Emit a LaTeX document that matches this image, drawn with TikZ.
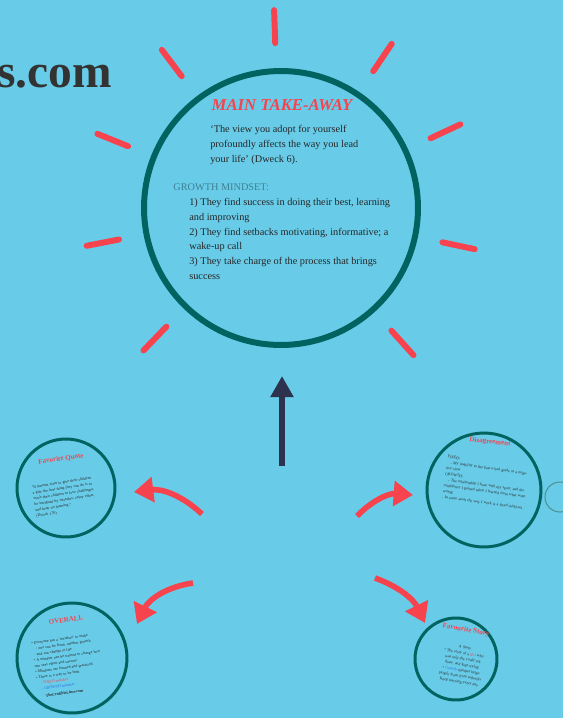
\documentclass[tikz,border=0pt]{standalone}
\usepackage{fontspec}
\setmainfont{Liberation Serif}
\usetikzlibrary{arrows.meta}

\definecolor{skyback}{RGB}{104,204,232}
\definecolor{deepteal}{RGB}{0,99,96}
\definecolor{rayred}{RGB}{247,67,78}
\definecolor{navyink}{RGB}{45,50,78}
\definecolor{mindteal}{RGB}{62,128,148}
\definecolor{inkgray}{RGB}{38,38,40}
\definecolor{linkblue}{RGB}{40,110,230}

\newcommand{\bodysize}{\fontsize{5.85}{8.4}\selectfont}
\newcommand{\tinysize}{\fontsize{2.2}{3.3}\selectfont}
\newcommand{\bubtitle}{\bfseries\fontsize{4}{4}\selectfont}

\begin{document}
\begin{tikzpicture}[x=0.02cm, y=0.02cm,
    every node/.style={inner sep=0pt, text=inkgray},
    bubble/.style={circle, draw=deepteal, line width=1.7pt},
    ray/.style={draw=rayred, line width=3.4pt, line cap=round},
    curly/.style={draw=rayred, line width=3.2pt, -{Triangle[length=11pt, width=14pt]}}]
    \fill[skyback] (0,0) rectangle (563,-718);
    \useasboundingbox (0,0) rectangle (563,-718);

    % site name cut at the left edge
    \node[anchor=base west, font=\bfseries\fontsize{27}{27}\selectfont, text=black!80] (site) at (-3,-87) {s.com};

    % main take-away
    \node[circle, draw=deepteal, line width=3.4pt, minimum size=5.48cm] (main) at (281,-208) {};
    \foreach \a in {92,127,158,191,226,56,25,-12,-48}
        \draw[ray] ([shift={(\a:165)}]main.center) -- ([shift={(\a:198)}]main.center);

    \node[font=\bfseries\itshape\fontsize{9.5}{10}\selectfont, text=rayred] (title) at (282,-105) {MAIN TAKE-AWAY};
    \node[anchor=north west, align=left, font=\bodysize] (quote) at (210,-125)
        {`The view you adopt for yourself\\ profoundly affects the way you lead\\ your life' (Dweck 6).};
    \node[anchor=north west, font=\bodysize, text=mindteal] (growth) at (173,-183) {GROWTH MINDSET:};
    \node[anchor=north west, align=left, font=\bodysize] (items) at (189,-198)
        {1) They find success in doing their best, learning\\ and improving\\
         2) They find setbacks motivating, informative; a\\ wake-up call\\
         3) They take charge of the process that brings\\ success};

    % arrow up to the main circle
    \coordinate (upS) at (282,-466);
    \coordinate (upE) at (282,-376);
    \draw[navyink, line width=3.4pt, -{Triangle[length=12pt, width=12.5pt]}] (upS) -- (upE);

    % bubbles round the centre
    \node[bubble, minimum size=1.96cm] (quoteC) at (66,-488) {};
    \node[bubble, minimum size=2.28cm] (disagC) at (484,-490) {};
    \node[circle, draw=deepteal!70, line width=0.6pt, minimum size=0.6cm] (nextC) at (560,-497) {};
    \node[bubble, minimum size=2.2cm] (overallC) at (72,-658) {};
    \node[bubble, minimum size=1.64cm] (storyC) at (456,-659) {};

    \coordinate (qS) at (202,-514);
    \coordinate (qE) at (134,-492);
    \coordinate (dS) at (357,-516);
    \coordinate (dE) at (413,-495);
    \coordinate (oS) at (193,-583);
    \coordinate (oE) at (137,-624);
    \coordinate (sS) at (375,-578);
    \coordinate (sE) at (425,-623);
    \draw[curly] (qS) to[bend right=25] (qE);
    \draw[curly] (dS) to[bend left=25] (dE);
    \draw[curly] (oS) to[bend right=28] (oE);
    \draw[curly] (sS) to[bend left=22] (sE);

    % bubble texts
    \node[font=\bubtitle, text=rayred, rotate=8] (quoteT) at (61,-459) {Favorite Quote};
    \node[align=left, text width=1.25cm, font=\tinysize, rotate=9] (quoteB) at (65,-497)
        {``If parents want to give their children a gift, the best thing they can do is to teach their children to love challenges, be intrigued by mistakes, enjoy effort, and keep on learning.''\\ (Dweck 176)};

    \node[font=\bubtitle, text=rayred, rotate=-6] (disagT) at (490,-442) {Disagreement};
    \node[align=left, text width=1.7cm, font=\tinysize, rotate=-8] (disagB) at (487,-483)
        {FIXED:\\ \quad - My inability to get past a bad grade or a negative view\\
         GROWTH:\\ \quad - The relationship I have with my sport, and the confidence I gained when I learned from what went wrong\\
         - In some areas the way I work is a fixed mind-set};

    \node[font=\bubtitle, text=rayred, rotate=8] (overallT) at (66,-620) {OVERALL};
    \node[align=left, text width=1.45cm, font=\tinysize, rotate=8] (overallB) at (71,-665)
        {\textbullet\ Everyone has a `mindset' to make\\ \quad - one can be fixed, another growth\\ \quad and can change in life\\
         \textbullet\ A mindset can be trained to change how one sees effort and success\\
         \textbullet\ Mindsets are learned and practiced\\
         \textbullet\ There is a way to be both\\
         \quad {\color{rayred}- FIXED mindset}\\ \quad {\color{linkblue}- GROWTH mindset}\\[1pt]
         \hspace*{4pt}\textbf{TheCredibleLines.com}};

    \node[font=\bubtitle, text=rayred, rotate=-10] (storyT) at (466,-630) {Favourite Story};
    \node[align=center, text width=1.0cm, font=\tinysize, rotate=-10] (storyB) at (462,-665)
        {A Story\\ \textbullet\ The story of a {\color{rayred}girl} who was told she could not draw, and kept trying\\
         \textbullet\ {\color{linkblue}Growth} mindset helps people learn from setbacks\\
         Keep learning every day};
\end{tikzpicture}
\end{document}
